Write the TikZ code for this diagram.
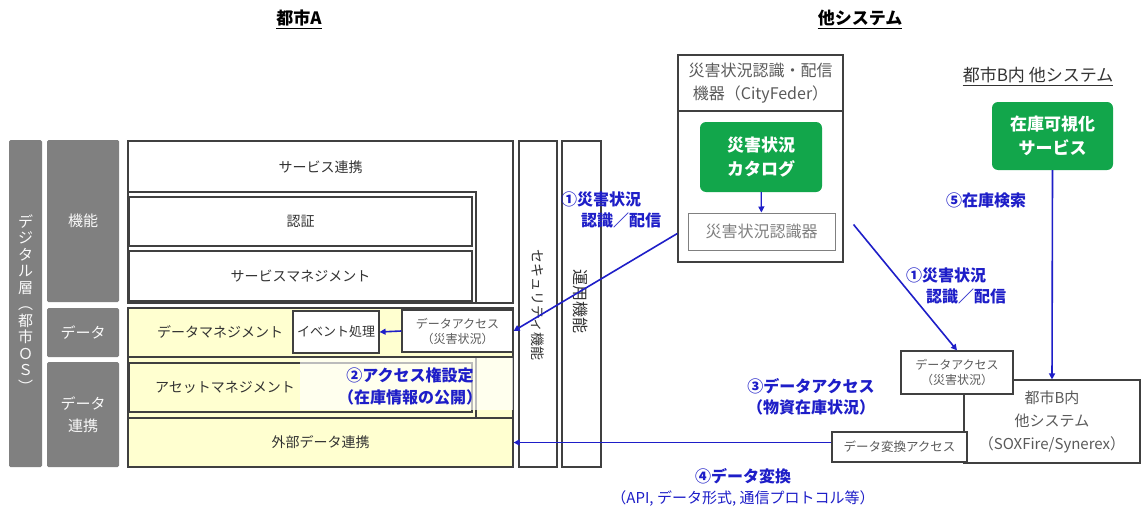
\documentclass[tikz,border=0pt]{standalone}
\usepackage{fontspec}
\setmainfont{Noto Sans CJK JP}
\usetikzlibrary{arrows.meta,calc}
\definecolor{blu}{RGB}{30,30,200}
\definecolor{grn}{RGB}{18,166,75}
\definecolor{ylw}{RGB}{255,255,208}
\definecolor{gcol}{RGB}{128,128,128}
\definecolor{edge}{RGB}{64,64,64}
\definecolor{txt}{RGB}{51,51,51}
\definecolor{ltxt}{RGB}{90,90,90}
\newcommand{\fz}[2]{\fontsize{#1}{#2}\selectfont}
\begin{document}
\begin{tikzpicture}[x=1pt,y=-1pt,
  gbox/.style={fill=gcol, draw=none, rounded corners=1.5pt, text=white!95!gray, inner sep=0pt, align=center},
  wbox/.style={draw=edge, line width=1.2pt, fill=white, inner sep=0pt, font=\fz{14}{17}, text=txt, align=center},
  ybox/.style={wbox, fill=ylw},
  grnbox/.style={fill=grn, draw=none, rounded corners=6pt, text=white, font=\fz{17}{24}\bfseries, align=center, inner sep=0pt},
  lbl/.style={font=\fz{14}{17}, text=txt, inner sep=0pt},
  bl/.style={text=blu, font=\fz{16}{21}\bfseries, align=center, inner sep=0pt},
  conn/.style={draw=blu, line width=1.6pt, -{Triangle[length=6pt,width=6pt]}},
  ttl/.style={font=\fz{17}{20}\bfseries, text=black, inner sep=0pt}]
\useasboundingbox[fill=white] (0,0) rectangle (1142,511);

% titles
\node[ttl] (tA) at (299,18) {都市A};
\draw[line width=0.9pt] ([yshift=-4pt]tA.base west) -- ([yshift=-4pt]tA.base east);
\node[ttl] (tO) at (860,18) {他システム};
\draw[line width=0.9pt] ([yshift=-4pt]tO.base west) -- ([yshift=-4pt]tO.base east);

% grey layer columns
\node[gbox, minimum width=33pt, minimum height=327pt, font=\fz{15}{16.5}] (os) at (25.5,303.5) {デ\\ジ\\タ\\ル\\層\\︵\\都\\市\\Ｏ\\Ｓ\\︶};
\node[gbox, minimum width=72pt, minimum height=162pt, font=\fz{15}{18}] (kino) at (83,221) {機能};
\node[gbox, minimum width=72pt, minimum height=49pt, font=\fz{15}{18}] (dlay) at (83,332.5) {データ};
\node[gbox, minimum width=72pt, minimum height=105pt, font=\fz{15}{22}] (rlay) at (83,414.5) {データ\\連携};

% function layer
\node[wbox, minimum width=385pt, minimum height=162pt] (svc) at (320.5,222) {};
\node[lbl] (svct) at (320.5,167) {サービス連携};
\node[wbox, fill=none, minimum width=348pt, minimum height=111pt] (fr1) at (302,247.5) {};
\node[wbox, minimum width=343pt, minimum height=49pt] (auth) at (300.5,221.5) {認証};
\node[wbox, minimum width=343pt, minimum height=50pt] (svcm) at (300.5,276) {サービスマネジメント};

% data layers
\node[ybox, minimum width=385pt, minimum height=159pt] (dbg) at (320.5,387.5) {};
\node[ybox, minimum width=385pt, minimum height=49pt] (dm) at (320.5,332.5) {};
\node[lbl] (dmt) at (220,332) {データマネジメント};
\node[wbox, minimum width=86pt, minimum height=42pt, font=\fz{13}{15}] (ev) at (336,332) {イベント処理};
\node[wbox, minimum width=111pt, minimum height=42pt, font=\fz{12}{15}, text=ltxt] (daA) at (457.5,331) {データアクセス\\（災害状況）};
\node[wbox, fill=none, minimum width=348pt, minimum height=61pt] (fr2) at (302,387.5) {};
\node[ybox, minimum width=343pt, minimum height=49pt] (asset) at (300.5,387.5) {};
\node[lbl] (assett) at (225,387) {アセットマネジメント};
\node[ybox, minimum width=385pt, minimum height=49pt] (ext) at (320.5,442.5) {外部データ連携};
\node[fill=white, fill opacity=0.65, minimum width=213pt, minimum height=52pt, inner sep=0pt] (l2bg) at (406.5,384) {};
\node[bl, font=\fz{16}{22}\bfseries] (l2) at (410,386) {②アクセス権設定\\（在庫情報の公開）};

% security / operation columns
\node[wbox, minimum width=38pt, minimum height=326pt] (sec) at (538,304) {};
\node[lbl, rotate=-90] (sect) at (538,305) {セキュリティ機能};
\node[wbox, minimum width=39pt, minimum height=326pt] (ops) at (581.5,304) {};
\node[lbl, rotate=-90, font=\fz{16}{18}] (opst) at (581,301) {運用機能};

% CityFeder
\node[wbox, minimum width=165pt, minimum height=207pt] (cf) at (760.5,158.5) {};
\node[wbox, minimum width=165pt, minimum height=56pt, font=\fz{16}{23}, text=ltxt] (cft) at (760.5,83) {災害状況認識・配信\\機器（CityFeder）};
\node[grnbox, minimum width=122pt, minimum height=70pt] (cat) at (761,157) {災害状況\\カタログ};
\node[wbox, draw=gray, line width=1pt, minimum width=147pt, minimum height=37pt, font=\fz{16}{18}, text=gray] (rec) at (761.5,231.5) {災害状況認識器};
\draw[conn, line width=1.2pt] (cat) -- (rec);

% city B
\node[font=\fz{17}{20}, text=txt, inner sep=0pt] (ttlB) at (1038,75) {都市B内 他システム};
\draw[line width=0.9pt, txt] ([yshift=-4pt]ttlB.base west) -- ([yshift=-4pt]ttlB.base east);
\node[grnbox, minimum width=121pt, minimum height=68pt] (stock) at (1052.5,136) {在庫可視化\\サービス};
\node[wbox, minimum width=176pt, minimum height=83pt, font=\fz{15}{23}, text=ltxt] (cityB) at (1052,421.5) {都市B内\\他システム\\（SOXFire/Synerex）};
\node[wbox, minimum width=112pt, minimum height=43pt, font=\fz{12}{15}, text=ltxt] (daB) at (957,372.5) {データアクセス\\（災害状況）};
\node[wbox, minimum width=135pt, minimum height=30pt, font=\fz{12.5}{15}, text=ltxt] (conv) at (899.5,447) {データ変換アクセス};

% connectors
\coordinate (s1) at ($(cf.south west)!0.14!(cf.north west)$);
\draw[conn] (s1) -- (daA.east);
\draw[conn] (daA.west) -- (ev.east);
\coordinate (s2) at ($(rec.east)+(18,-7)$);
\draw[conn] (s2) -- (daB.north);
\draw[conn] (conv.west |- ext.east) -- (ext.east);
\draw[conn] (stock.south) -- (cityB.north);

% connector labels
\node[bl, align=left, anchor=west] (l1a) at (561,210) {①災害状況\\\hspace{1.25em}認識／配信};
\node[bl, align=left, anchor=west] (l1b) at (906,286) {①災害状況\\\hspace{1.25em}認識／配信};
\node[bl, anchor=west] (l5) at (946,200) {⑤在庫検索};
\node[bl] (l3) at (811,397) {③データアクセス\\（物資在庫状況）};
\node[text=blu, align=center, inner sep=0pt, font=\fz{15}{21}] (l4) at (743,487) {{\fz{16}{21}\bfseries ④データ変換}\\（API, データ形式, 通信プロトコル等）};
\end{tikzpicture}
\end{document}
